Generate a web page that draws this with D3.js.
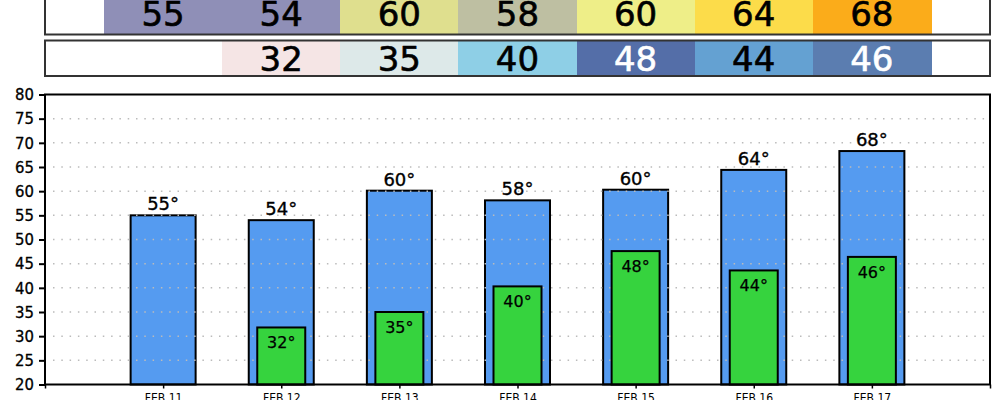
<!DOCTYPE html>
<html><head><meta charset="utf-8">
<script src="https://cdn.jsdelivr.net/npm/d3@7"></script>
<style>body{margin:0;background:#fff;}svg{display:block;}</style>
</head><body>
<svg id="c" width="1000" height="400"></svg>
<script>
const dates = ["FEB 11","FEB 12","FEB 13","FEB 14","FEB 15","FEB 16","FEB 17"];
const highs = [55, 54, 60.1, 58.1, 60.3, 64.4, 68.3];
const lows = [null, 31.8, 35, 40.3, 47.6, 43.6, 46.4];
const yTicks = [20,25,30,35,40,45,50,55,60,65,70,75,80];
const highColors = ["#8f8fb7","#8f8fb7","#dfdf8e","#bebfa2","#eeee88","#fcdc4a","#fbac1a"];
const lowColors = [null,"#f5e5e5","#dde9e9","#8ecfe6","#546ea8","#64a1d2","#5b7db0"];
const lowTextColors = [null,"#000","#000","#000","#fff","#000","#fff"];

const svg = d3.select("#c");
const L = 45, R = 990, T = 94.5, B = 384.5;
const x = d3.scaleLinear().domain([0, dates.length + 1]).range([L, R]);
const y = d3.scaleLinear().domain([20, 80]).range([B, T]);
const sans = "'DejaVu Sans', sans-serif";

function heavy(sel, color, w) {
  sel.attr("stroke", color).attr("stroke-width", w).attr("paint-order", "stroke").attr("stroke-linejoin", "round");
}

// Top strips
function strip(y0, y1, vals, colors, textColors, baseline) {
  const g = svg.append("g");
  const items = vals.map((v,i)=>({v,i})).filter(d => d.v != null);
  g.selectAll("rect.cell").data(items).join("rect")
    .attr("shape-rendering", "crispEdges")
    .attr("x", d => Math.round(x(d.i + 0.5))).attr("width", d => Math.round(x(d.i + 1.5)) - Math.round(x(d.i + 0.5)) + 1)
    .attr("y", y0).attr("height", y1 - y0)
    .attr("fill", d => colors[d.i]);
  const t = g.selectAll("text").data(items).join("text")
    .attr("x", d => x(d.i + 1)).attr("y", baseline)
    .attr("text-anchor", "middle").attr("font-family", sans).attr("font-size", 34)
    .attr("fill", d => textColors ? textColors[d.i] : "#000")
    .text(d => Math.round(d.v));
  heavy(t, d => textColors ? textColors[d.i] : "#000", 0.6);
  g.append("rect").attr("x", L).attr("y", y0).attr("width", R - L).attr("height", y1 - y0)
    .attr("fill", "none").attr("stroke", "#333").attr("stroke-width", 2);
}
strip(-5, 34.5, highs, highColors, null, 25.5);
strip(40.5, 76, lows, lowColors, lowTextColors, 71);

// Blue bars
const bw = 65, gw = 48;
svg.append("g").selectAll("rect").data(highs).join("rect")
  .attr("x", (d,i) => x(i + 1) - bw/2).attr("width", bw)
  .attr("y", d => y(d)).attr("height", d => y(20) - y(d))
  .attr("fill", "#559bf0").attr("stroke", "#000").attr("stroke-width", 2);

// Gridlines
svg.append("g").selectAll("line").data(yTicks.filter(t => t > 20 && t < 80)).join("line")
  .attr("x1", L + 8).attr("x2", R).attr("y1", d => y(d)).attr("y2", d => y(d))
  .attr("stroke", "#bbb").attr("stroke-width", 1.5).attr("stroke-dasharray", "1.5,6.8");

// Green bars
svg.append("g").selectAll("rect").data(lows.map((v,i)=>({v,i})).filter(d => d.v != null)).join("rect")
  .attr("x", d => x(d.i + 1) - gw/2).attr("width", gw)
  .attr("y", d => y(d.v)).attr("height", d => y(20) - y(d.v))
  .attr("fill", "#36d33e").attr("stroke", "#000").attr("stroke-width", 2);

// Labels
const hl = svg.append("g").selectAll("text").data(highs).join("text")
  .attr("x", (d,i) => x(i + 1)).attr("y", d => y(d) - 5)
  .attr("text-anchor", "middle").attr("font-family", sans).attr("font-size", 18)
  .text(d => Math.round(d) + "°");
heavy(hl, "#000", 0.35);
const ll = svg.append("g").selectAll("text").data(lows.map((v,i)=>({v,i})).filter(d => d.v != null)).join("text")
  .attr("x", d => x(d.i + 1)).attr("y", d => y(d.v) + 21)
  .attr("text-anchor", "middle").attr("font-family", sans).attr("font-size", 16)
  .text(d => Math.round(d.v) + "°");
heavy(ll, "#000", 0.25);

// Frame
svg.append("rect").attr("x", L).attr("y", T).attr("width", R - L).attr("height", B - T)
  .attr("fill", "none").attr("stroke", "#000").attr("stroke-width", 2);

// Y axis
const yAxis = svg.append("g").attr("transform", `translate(${L},0)`)
  .call(d3.axisLeft(y).tickValues(yTicks).tickSize(6).tickPadding(5).tickFormat(d3.format("d")));
yAxis.select(".domain").remove();
yAxis.selectAll("line").attr("stroke", "#000").attr("stroke-width", 2);
const yt = yAxis.selectAll("text").attr("font-family", "'DejaVu Sans Condensed', 'DejaVu Sans', sans-serif")
  .attr("font-size", 16.5).attr("fill", "#000");
heavy(yt, "#000", 0.3);

// X axis
const xAxis = svg.append("g").attr("transform", `translate(0,${B})`)
  .call(d3.axisBottom(x).tickValues(d3.range(0, dates.length + 2)).tickSize(4).tickPadding(5)
    .tickFormat(d => (d >= 1 && d <= dates.length) ? dates[d - 1] : ""));
xAxis.select(".domain").remove();
xAxis.selectAll("line").attr("stroke", "#000").attr("stroke-width", 1.5);
xAxis.selectAll("text").attr("font-family", "'DejaVu Sans Condensed', 'DejaVu Sans', sans-serif")
  .attr("font-size", 12).attr("fill", "#000");
</script>
</body></html>
